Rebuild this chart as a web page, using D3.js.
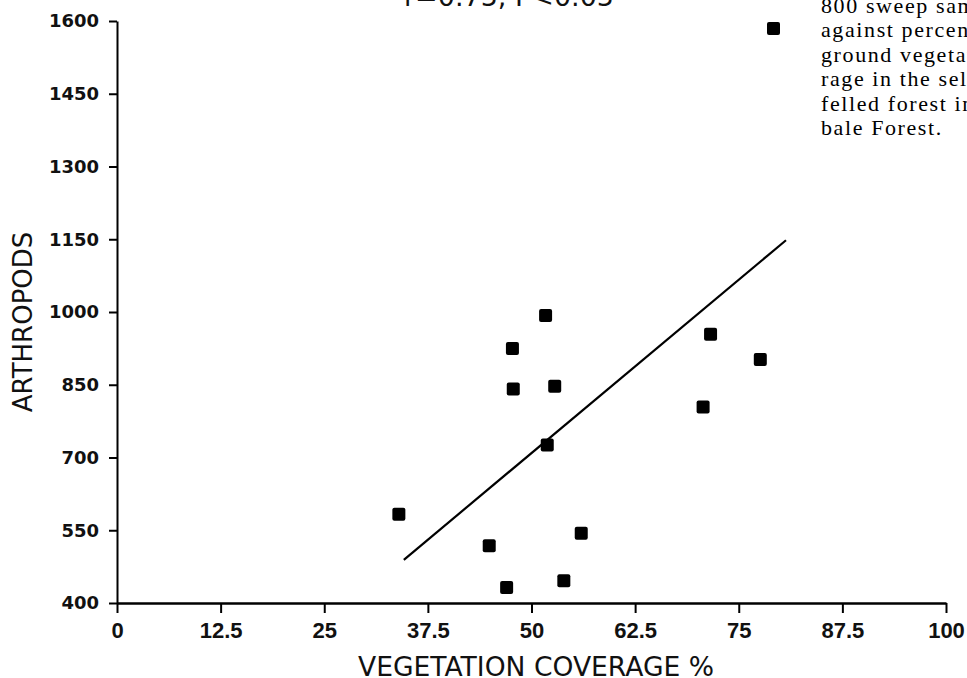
<!DOCTYPE html>
<html>
<head>
<meta charset="utf-8">
<script src="https://cdn.jsdelivr.net/npm/d3@7.9.0/dist/d3.min.js"></script>
<style>
  html, body { margin: 0; padding: 0; background: #fff; }
  svg { display: block; }
</style>
</head>
<body>
<svg id="chart"></svg>
<script>
// vegetation coverage (%) vs arthropods per 800 sweeps
const coverage   = [34.0, 44.9, 47.0, 47.7, 47.8, 51.7, 51.9, 52.8, 53.9, 56.0, 70.7, 71.6, 77.6];
const arthropods = [583, 518, 432, 925, 841, 993, 726, 847, 446, 544, 804, 954, 902];

// fitted regression line (end points)
const fitX = [34.6, 80.7];
const fitY = [489, 1148];

const xTicks = [0, 12.5, 25, 37.5, 50, 62.5, 75, 87.5, 100];
const yTicks = [400, 550, 700, 850, 1000, 1150, 1300, 1450, 1600];

const statText = "r=0.75, P<0.05";
const captionLines = [
  "800 sweep samples",
  "against percentage",
  "ground vegetation cove-",
  "rage in the selectively",
  "felled forest in Ara-",
  "bale Forest."
];

const width = 967, height = 678;
const svg = d3.select("#chart").attr("width", width).attr("height", height);
svg.append("rect").attr("width", width).attr("height", height).attr("fill", "#fff");

const x = d3.scaleLinear().domain([0, 100]).range([117, 946]);
const y = d3.scaleLinear().domain([400, 1600]).range([603, 21]);

// axes
const yAxis = svg.append("g")
  .attr("transform", `translate(${x(0)},0)`)
  .call(d3.axisLeft(y).tickValues(yTicks).tickSize(8).tickPadding(10).tickSizeOuter(0)
    .tickFormat(d => String(d)));
yAxis.select(".domain").attr("stroke-width", 2);
yAxis.selectAll(".tick line").attr("stroke-width", 2);
yAxis.selectAll("text")
  .attr("font-family", "'DejaVu Sans', sans-serif")
  .attr("font-size", 18)
  .attr("font-weight", "bold")
  .attr("fill", "#111");

const xAxis = svg.append("g")
  .attr("transform", `translate(0,${y(400)})`)
  .call(d3.axisBottom(x).tickValues(xTicks).tickSize(10).tickPadding(9).tickSizeOuter(0)
    .tickFormat(d => String(d)));
xAxis.select(".domain").attr("stroke-width", 2.5);
xAxis.selectAll(".tick line").attr("stroke-width", 2);
xAxis.selectAll("text")
  .attr("font-family", "'Liberation Sans', Arial, sans-serif")
  .attr("font-size", 22)
  .attr("font-weight", "bold")
  .attr("fill", "#111");

// axis titles
svg.append("text")
  .attr("transform", `translate(32,${(y(400) + y(1600)) / 2 + 10}) rotate(-90)`)
  .attr("text-anchor", "middle")
  .attr("font-family", "'DejaVu Sans', sans-serif")
  .attr("font-size", 26)
  .attr("fill", "#111")
  .text("ARTHROPODS");

svg.append("text")
  .attr("x", 536)
  .attr("y", 676)
  .attr("text-anchor", "middle")
  .attr("font-family", "'DejaVu Sans', sans-serif")
  .attr("font-size", 27)
  .attr("textLength", 356)
  .attr("lengthAdjust", "spacingAndGlyphs")
  .attr("fill", "#111")
  .text("VEGETATION COVERAGE %");

// statistic, mostly cut off at the top edge
svg.append("text")
  .attr("x", 509)
  .attr("y", 6)
  .attr("text-anchor", "middle")
  .attr("font-family", "'DejaVu Sans', sans-serif")
  .attr("font-size", 27)
  .attr("fill", "#111")
  .text(statText);

// regression line
svg.append("line")
  .attr("x1", x(fitX[0])).attr("y1", y(fitY[0]))
  .attr("x2", x(fitX[1])).attr("y2", y(fitY[1]))
  .attr("stroke", "#000")
  .attr("stroke-width", 2.2);

// points
const sq = 13;
svg.append("g").selectAll("rect")
  .data(coverage.map((c, i) => ({ c, a: arthropods[i] })))
  .join("rect")
  .attr("x", d => x(d.c) - sq / 2)
  .attr("y", d => y(d.a) - sq / 2)
  .attr("width", sq)
  .attr("height", sq)
  .attr("rx", 2)
  .attr("fill", "#000");

// legend marker + caption (runs off the right edge)
svg.append("rect")
  .attr("x", 767).attr("y", 22)
  .attr("width", sq).attr("height", sq)
  .attr("rx", 2)
  .attr("fill", "#000");

svg.append("g").selectAll("text")
  .data(captionLines)
  .join("text")
  .attr("x", 821)
  .attr("y", (d, i) => 13 + i * 24.4)
  .attr("font-family", "'Liberation Serif', 'Times New Roman', serif")
  .attr("font-size", 22)
  .attr("letter-spacing", 1.6)
  .attr("fill", "#000")
  .text(d => d);
</script>
</body>
</html>
